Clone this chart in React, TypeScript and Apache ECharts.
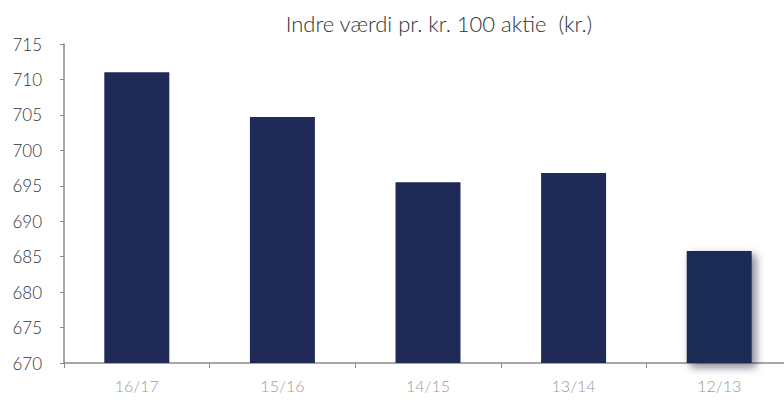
import React, { useEffect, useRef } from "react";
import * as echarts from "echarts";

const categories = ["16/17", "15/16", "14/15", "13/14", "12/13"];
const values = [711, 704.7, 695.5, 696.8, 685.8];
const yMin = 670;
const yMax = 715;
const yStep = 5;
const title = "Indre værdi pr. kr. 100 aktie  (kr.)";

export default function App() {
  const ref = useRef<HTMLDivElement>(null);
  useEffect(() => {
    document.body.style.margin = "0";
    const chart = echarts.init(ref.current!, undefined, { renderer: "svg" });
    const seriesData = values.map((v, i) =>
      i === values.length - 1
        ? {
            value: v,
            itemStyle: {
              color: "#1f2a56",
              shadowColor: "rgba(20,25,45,0.55)",
              shadowBlur: 8,
              shadowOffsetX: 4,
              shadowOffsetY: 4,
            },
          }
        : v
    );
    chart.setOption({
      animation: false,
      backgroundColor: "#ffffff",
      title: {
        text: title,
        left: 434,
        top: 7,
        textAlign: "center",
        textStyle: {
          fontFamily: "Lato",
          fontWeight: 300,
          fontSize: 22,
          color: "#333333",
        },
      },
      grid: { left: 64, right: 0, top: 44, bottom: 37, containLabel: false },
      xAxis: {
        type: "category",
        data: categories,
        axisLine: { lineStyle: { color: "#8a8a8a", width: 1.5 } },
        axisTick: { show: true, length: 5, lineStyle: { color: "#8a8a8a" } },
        axisLabel: {
          color: "#9a9a9a",
          fontFamily: "Lato",
          fontWeight: 300,
          fontSize: 16,
          margin: 14,
        },
      },
      yAxis: {
        type: "value",
        min: yMin,
        max: yMax,
        interval: yStep,
        axisLine: { show: true, lineStyle: { color: "#8a8a8a", width: 1.5 } },
        axisTick: { show: true, length: 4, lineStyle: { color: "#8a8a8a" } },
        splitLine: { show: false },
        axisLabel: {
          color: "#333333",
          fontFamily: "Lato",
          fontWeight: 300,
          fontSize: 17,
          margin: 22,
        },
      },
      series: [
        {
          type: "bar",
          data: seriesData,
          barWidth: 65,
          itemStyle: { color: "#1f2a56" },
        },
      ],
    });
    return () => chart.dispose();
  }, []);
  return (
    <div style={{ width: 784, height: 400, overflow: "hidden", position: "relative" }}>
      <div ref={ref} style={{ width: 792, height: 400 }} />
    </div>
  );
}
